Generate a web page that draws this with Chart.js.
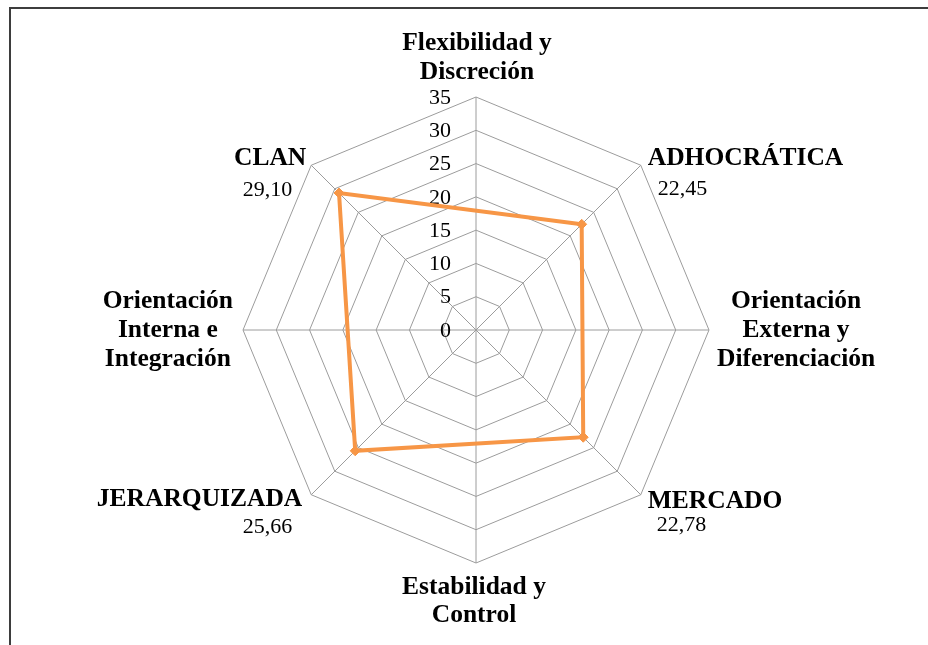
<!DOCTYPE html>
<html>
<head>
<meta charset="utf-8">
<script src="https://cdn.jsdelivr.net/npm/chart.js@4"></script>
<style>
  html, body { margin: 0; padding: 0; background: #ffffff; }
  #wrap { position: relative; width: 928px; height: 645px; overflow: hidden; background: #ffffff; }
  #frame { position: absolute; left: 9px; top: 7px; width: 1000px; height: 700px;
           border-left: 2px solid #3d3d3d; border-top: 2px solid #3d3d3d; box-sizing: border-box; }
  #c { position: absolute; left: 0; top: 0; }
</style>
</head>
<body>
<div id="wrap">
  <div id="frame"></div>
  <canvas id="c" width="928" height="645"></canvas>
</div>
<script>
// ---- data ----
const CATEGORIES = [
  ['Flexibilidad y', 'Discreción'],
  ['ADHOCRÁTICA'],
  ['Orientación', 'Externa y', 'Diferenciación'],
  ['MERCADO'],
  ['Estabilidad y', 'Control'],
  ['JERARQUIZADA'],
  ['Orientación', 'Interna e', 'Integración'],
  ['CLAN']
];
const VALUES = [null, 22.45, null, 22.78, null, 25.66, null, 29.10];
const TICKS = [0, 5, 10, 15, 20, 25, 30, 35];

// ---- styles ----
const LABEL_FONT = 'bold 25.5px "Liberation Serif", "Times New Roman", serif';
const VALUE_FONT = '22px "Liberation Serif", "Times New Roman", serif';
const LINE_H = 29;

// per-axis label placement relative to the outer vertex
const PLACE = [
  {mode: 'top', gap: 25},
  {mode: 'diag', align: 'left', dx: 7, dy: -7, vdx: 17, vdy: 24},
  {mode: 'right', gap: 8},
  {mode: 'diag', align: 'left', dx: 7, dy: 7, vdx: 16, vdy: 30},
  {mode: 'bottom', gap: 24},
  {mode: 'diag', align: 'right', dx: -9, dy: 5, vdx: -19, vdy: 32},
  {mode: 'left', gap: 10},
  {mode: 'diag', align: 'right', dx: -5, dy: -7, vdx: -19, vdy: 25}
];

function fmt(v) { return v.toFixed(2).replace('.', ','); }

const labelsPlugin = {
  id: 'customLabels',
  beforeDatasetsDraw(chart) {
    const scale = chart.scales.r;
    const ctx = chart.ctx;
    ctx.save();
    ctx.font = VALUE_FONT;
    ctx.fillStyle = '#000000';
    ctx.textAlign = 'right';
    ctx.textBaseline = 'middle';
    scale.ticks.forEach(t => {
      const d = scale.getDistanceFromCenterForValue(t.value);
      ctx.fillText(String(t.value), scale.xCenter - 25, scale.yCenter - d + 1);
    });
    ctx.restore();
  },
  afterDraw(chart) {
    const scale = chart.scales.r;
    const ctx = chart.ctx;
    const R = scale.drawingArea;
    ctx.save();
    ctx.fillStyle = '#000000';
    ctx.textBaseline = 'middle';
    CATEGORIES.forEach((lines, i) => {
      const p = scale.getPointPosition(i, R);
      const pl = PLACE[i];
      ctx.font = LABEL_FONT;
      if (pl.mode === 'top') {
        ctx.textAlign = 'center';
        const n = lines.length;
        lines.forEach((s, k) => ctx.fillText(s, p.x + 1, p.y - pl.gap - (n - 1 - k) * LINE_H));
      } else if (pl.mode === 'bottom') {
        ctx.textAlign = 'center';
        lines.forEach((s, k) => ctx.fillText(s, p.x - 2, p.y + pl.gap + k * (LINE_H - 1)));
      } else if (pl.mode === 'right' || pl.mode === 'left') {
        const w = Math.max(...lines.map(s => ctx.measureText(s).width));
        const cx = pl.mode === 'right' ? p.x + pl.gap + w / 2 : p.x - pl.gap - w / 2;
        ctx.textAlign = 'center';
        const n = lines.length;
        lines.forEach((s, k) => ctx.fillText(s, cx, p.y + (k - (n - 1) / 2) * LINE_H));
      } else {
        ctx.textAlign = pl.align;
        ctx.fillText(lines[0], p.x + pl.dx, p.y + pl.dy);
        const v = VALUES[i];
        if (v !== null) {
          ctx.font = VALUE_FONT;
          ctx.fillText(fmt(v), p.x + pl.vdx, p.y + pl.vdy);
        }
      }
    });
    ctx.restore();
  }
};

new Chart(document.getElementById('c'), {
  type: 'radar',
  data: {
    labels: CATEGORIES,
    datasets: [{
      data: VALUES,
      spanGaps: true,
      borderColor: '#F79646',
      backgroundColor: 'rgba(0,0,0,0)',
      fill: false,
      borderWidth: 4,
      tension: 0,
      pointStyle: 'rectRot',
      pointRadius: 5,
      pointBackgroundColor: '#F79646',
      pointBorderColor: '#F79646',
      pointBorderWidth: 1
    }]
  },
  options: {
    responsive: false,
    animation: false,
    layout: { padding: { left: 243, right: 219, top: 97, bottom: 82 } },
    plugins: { legend: { display: false }, tooltip: { enabled: false } },
    scales: {
      r: {
        min: 0,
        max: 35,
        startAngle: 0,
        afterBuildTicks(scale) { scale.ticks = TICKS.map(v => ({value: v})); },
        ticks: { display: false, stepSize: 5 },
        pointLabels: { display: false },
        grid: { color: '#9c9c9c', lineWidth: 1, circular: false },
        angleLines: { color: '#9c9c9c', lineWidth: 1 }
      }
    }
  },
  plugins: [labelsPlugin]
});
</script>
</body>
</html>
